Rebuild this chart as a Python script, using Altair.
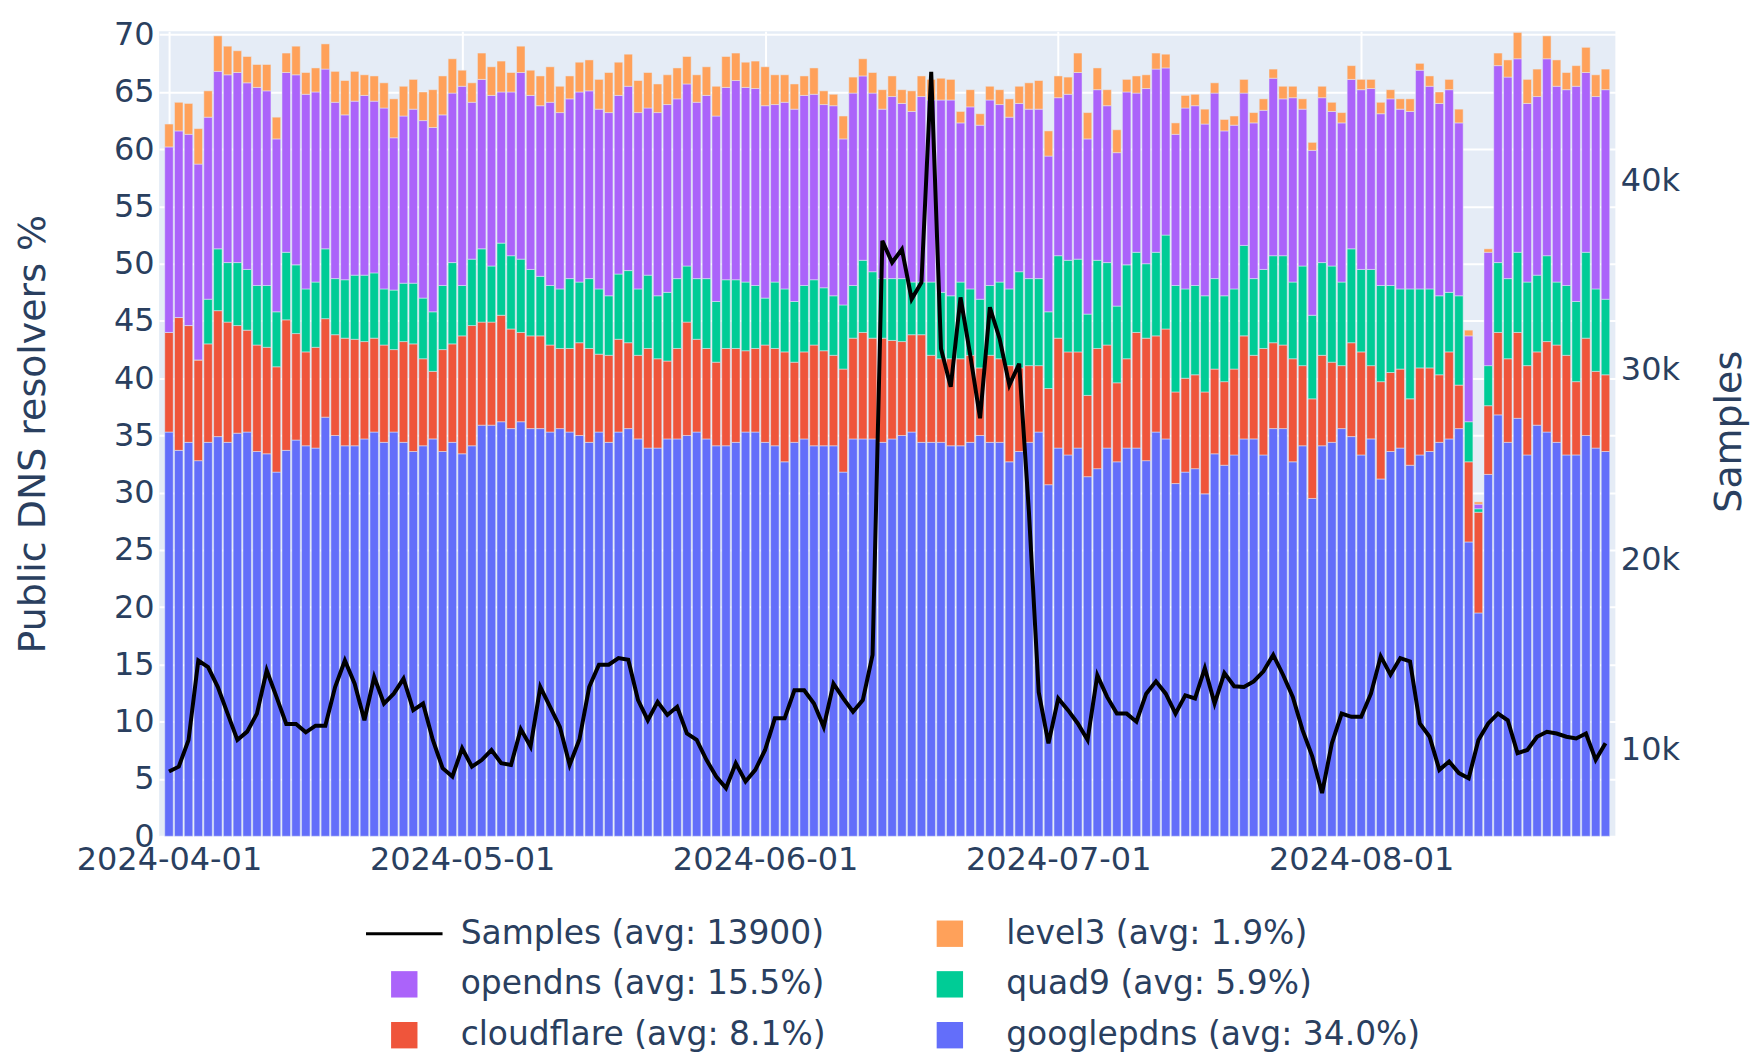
import altair as alt
import pandas as pd

# ---------------- data ----------------
start_date = "2024-04-01"
n_days = 148
dates = pd.date_range(start_date, periods=n_days, freq="D").strftime("%Y-%m-%d").tolist()

series_names = ["googlepdns", "cloudflare", "quad9", "opendns", "level3"]
series_avg = ["34.0%", "8.1%", "5.9%", "15.5%", "1.9%"]
samples_avg = "13900"

# stack boundaries (top of each segment, in %), read bar by bar
googlepdns_top = [
    35.3, 33.7, 34.4, 32.8, 34.4, 34.9, 34.4, 35.2, 35.3, 33.6, 33.4, 31.8, 33.7, 34.6, 34.1, 33.9,
    36.6, 35.0, 34.1, 34.1, 34.7, 35.3, 34.4, 35.3, 34.4, 33.6, 34.1, 34.7, 33.6, 34.4, 33.4, 34.1,
    35.9, 35.9, 36.2, 35.6, 36.2, 35.6, 35.6, 35.3, 35.6, 35.3, 35.0, 34.4, 35.3, 34.4, 35.3, 35.6,
    34.7, 33.9, 33.9, 34.7, 34.7, 35.0, 35.3, 34.7, 34.1, 34.1, 34.4, 35.3, 35.3, 34.4, 34.1, 32.7,
    34.4, 34.7, 34.1, 34.1, 34.1, 31.8, 34.7, 34.7, 34.7, 34.4, 34.7, 35.0, 35.3, 34.4, 34.4, 34.4,
    34.1, 34.1, 34.4, 35.0, 34.4, 34.4, 32.7, 33.6, 34.4, 35.3, 30.7, 33.9, 33.3, 33.9, 31.4, 32.1,
    33.9, 32.7, 33.9, 33.9, 32.8, 35.3, 34.7, 30.8, 31.8, 32.1, 29.9, 33.4, 32.4, 33.3, 34.7, 34.7,
    33.3, 35.6, 35.6, 32.7, 34.1, 29.5, 34.1, 34.4, 35.6, 34.9, 33.3, 34.7, 31.2, 33.6, 33.9, 32.4,
    33.3, 33.6, 34.4, 34.7, 35.6, 25.7, 19.5, 31.6, 36.8, 34.4, 36.5, 33.3, 35.9, 35.3, 34.4, 33.3,
    33.3, 35.0, 33.9, 33.6,
]
cloudflare_top = [
    44.0, 45.3, 44.6, 41.6, 43.0, 45.9, 44.9, 44.6, 44.2, 42.9, 42.7, 41.0, 45.1, 43.9, 42.3, 42.7,
    45.2, 43.8, 43.5, 43.4, 43.2, 43.5, 42.9, 42.5, 43.2, 43.0, 41.7, 40.6, 42.5, 43.0, 43.7, 44.6,
    44.9, 44.9, 45.5, 44.3, 44.0, 43.7, 43.7, 42.9, 42.6, 42.6, 43.1, 42.6, 42.1, 42.0, 43.4, 43.1,
    42.0, 42.6, 41.7, 41.5, 42.6, 44.9, 43.4, 42.6, 41.4, 42.6, 42.6, 42.4, 42.6, 42.9, 42.6, 42.3,
    41.4, 42.3, 42.9, 42.4, 42.0, 40.8, 43.5, 44.0, 43.5, 43.5, 43.3, 43.2, 43.8, 43.8, 42.0, 41.7,
    41.7, 41.7, 42.0, 40.9, 42.0, 41.7, 41.1, 40.9, 41.1, 41.1, 39.1, 43.5, 42.3, 42.3, 38.5, 42.6,
    42.9, 39.6, 41.7, 44.0, 43.5, 43.7, 44.3, 38.8, 40.0, 40.3, 38.8, 40.8, 39.7, 40.8, 43.7, 42.0,
    42.6, 43.1, 42.9, 41.7, 41.1, 38.2, 42.0, 41.4, 41.1, 43.1, 42.3, 41.1, 39.7, 40.5, 40.8, 38.2,
    40.9, 40.9, 40.3, 42.3, 39.4, 32.7, 28.3, 37.6, 44.0, 41.7, 44.0, 41.1, 42.3, 43.2, 42.9, 42.0,
    39.7, 43.5, 40.6, 40.3,
]
quad9_top = [
    44.0, 45.3, 44.6, 41.6, 46.9, 51.3, 50.1, 50.1, 49.5, 48.1, 48.1, 45.8, 51.0, 49.9, 47.8, 48.4,
    51.3, 48.7, 48.6, 49.0, 49.0, 49.2, 47.8, 47.7, 48.3, 48.3, 47.0, 45.8, 48.1, 50.1, 48.1, 50.4,
    51.3, 49.8, 51.8, 50.7, 50.4, 49.5, 48.9, 48.1, 47.8, 48.7, 48.4, 48.7, 47.8, 47.2, 49.1, 49.4,
    47.8, 49.0, 47.2, 47.5, 48.7, 49.8, 48.7, 48.7, 46.7, 48.6, 48.6, 48.4, 48.1, 47.0, 48.4, 47.8,
    46.7, 48.1, 48.6, 47.9, 47.2, 46.4, 48.1, 50.3, 49.3, 48.7, 48.7, 48.7, 48.4, 48.4, 48.4, 47.5,
    47.2, 48.4, 47.8, 46.9, 48.1, 48.4, 47.8, 49.3, 48.7, 48.7, 45.8, 50.7, 50.3, 50.4, 45.6, 50.3,
    50.1, 46.3, 49.9, 51.0, 50.0, 51.0, 52.5, 48.1, 47.8, 48.1, 47.2, 48.7, 47.2, 47.8, 51.6, 48.7,
    49.5, 50.7, 50.7, 48.4, 49.8, 45.5, 50.1, 49.8, 48.4, 51.3, 49.5, 49.5, 48.1, 48.1, 47.8, 47.8,
    47.8, 47.8, 47.2, 47.5, 47.2, 36.2, 28.6, 41.1, 50.1, 48.7, 51.0, 48.4, 49.0, 50.7, 48.4, 48.1,
    46.7, 51.0, 47.8, 46.9,
]
opendns_top = [
    60.2, 61.6, 61.3, 58.7, 62.8, 66.8, 66.5, 66.7, 65.8, 65.4, 65.1, 60.9, 66.7, 66.5, 64.8, 65.0,
    67.0, 64.1, 63.0, 64.2, 64.7, 64.2, 63.6, 61.0, 62.9, 63.5, 62.5, 61.9, 63.0, 64.9, 65.5, 64.1,
    66.1, 64.7, 65.0, 65.0, 66.7, 64.7, 63.8, 64.1, 63.2, 64.4, 65.0, 65.1, 63.5, 63.2, 64.7, 65.5,
    63.2, 63.6, 63.2, 63.9, 64.4, 65.7, 64.1, 64.7, 62.9, 65.4, 66.0, 65.4, 65.3, 63.8, 63.9, 64.1,
    63.5, 64.7, 64.8, 63.9, 63.8, 60.9, 64.9, 66.4, 64.9, 63.5, 64.6, 64.0, 63.3, 64.6, 64.3, 64.3,
    64.3, 62.3, 63.7, 62.1, 64.3, 63.9, 62.8, 64.0, 63.5, 63.5, 59.4, 64.5, 64.8, 66.7, 60.9, 65.2,
    63.8, 59.7, 65.0, 64.9, 65.3, 67.0, 67.1, 61.3, 63.6, 63.8, 62.2, 64.9, 61.6, 62.1, 64.9, 62.3,
    63.4, 66.2, 64.4, 64.5, 63.5, 59.9, 64.5, 63.3, 62.3, 66.1, 65.2, 65.3, 63.1, 64.4, 63.5, 63.3,
    66.9, 65.5, 64.0, 65.2, 62.3, 43.7, 29.0, 51.0, 67.3, 66.3, 67.9, 64.0, 64.6, 67.9, 65.5, 65.2,
    65.5, 66.7, 64.6, 65.2,
]
level3_top = [
    62.2, 64.1, 64.0, 61.8, 65.1, 69.9, 69.0, 68.6, 68.1, 67.4, 67.4, 62.8, 68.4, 69.0, 66.7, 67.1,
    69.2, 66.8, 66.0, 66.8, 66.5, 66.4, 65.8, 64.4, 65.5, 66.1, 65.0, 65.2, 66.4, 67.9, 66.9, 65.8,
    68.4, 67.2, 67.7, 66.7, 69.0, 66.9, 66.4, 67.2, 65.5, 66.4, 67.6, 67.8, 66.1, 66.7, 67.6, 68.3,
    66.0, 66.7, 65.7, 66.5, 67.1, 68.1, 66.5, 67.2, 65.5, 68.1, 68.4, 67.6, 67.7, 67.2, 66.5, 66.5,
    65.7, 66.4, 67.1, 65.1, 64.8, 62.9, 66.3, 67.9, 66.7, 65.2, 66.4, 65.2, 65.1, 66.4, 66.1, 66.2,
    66.1, 63.3, 65.2, 63.1, 65.5, 65.2, 64.4, 65.5, 65.8, 66.0, 61.6, 66.4, 66.3, 68.4, 63.2, 67.1,
    65.2, 61.7, 66.1, 66.4, 66.5, 68.4, 68.3, 62.3, 64.7, 64.8, 63.5, 65.8, 62.6, 62.9, 66.1, 63.2,
    64.4, 67.0, 65.5, 65.5, 64.4, 60.6, 65.5, 64.1, 63.2, 67.3, 66.1, 66.1, 64.1, 65.2, 64.4, 64.4,
    67.5, 66.4, 65.0, 66.1, 63.5, 44.2, 29.2, 51.3, 68.4, 67.8, 70.2, 66.1, 67.0, 69.9, 67.8, 66.7,
    67.3, 68.9, 66.5, 67.0,
]
samples = [
    8810, 9070, 10470, 14670, 14320, 13270, 11870, 10480, 10920, 11870, 14150, 12750, 11320, 11320, 10880, 11230,
    11230, 13270, 14670, 13450, 11520, 13800, 12400, 12920, 13710, 12050, 12400, 10480, 8990, 8550, 10040, 9070,
    9420, 9950, 9250, 9160, 11050, 10130, 13270, 12230, 11170, 9160, 10500, 13270, 14450, 14450, 14800, 14710,
    12580, 11520, 12490, 11800, 12230, 10820, 10480, 9430, 8550, 7940, 9250, 8290, 8900, 9950, 11620, 11620,
    13100, 13100, 12400, 11170, 13450, 12670, 11970, 12580, 14970, 36810, 35670, 36370, 33740, 34620, 45730, 31120,
    29110, 33830, 30770, 27450, 33310, 31650, 29200, 30330, 22500, 13000, 10300, 12670, 12050, 11350, 10480, 13890,
    12750, 11870, 11870, 11440, 12920, 13570, 12920, 11870, 12830, 12670, 14270, 12400, 14010, 13310, 13270, 13570,
    14100, 14970, 13920, 12750, 11000, 9600, 7680, 10300, 11870, 11700, 11700, 12920, 14890, 13920, 14800, 14620,
    11350, 10650, 8900, 9340, 8730, 8460, 10480, 11350, 11870, 11520, 9780, 9950, 10650, 10910, 10820, 10650,
    10560, 10820, 9430, 10300,
]

# ---------------- tables ----------------
labels = [f"{n} (avg: {a})" for n, a in zip(series_names, series_avg)]
sample_label = f"Samples (avg: {samples_avg})"
tops = [googlepdns_top, cloudflare_top, quad9_top, opendns_top, level3_top]

rows = []
for i, d in enumerate(dates):
    lower = 0.0
    for lab, top in zip(labels, tops):
        rows.append({"date": d, "series": lab, "lo": lower, "hi": top[i]})
        lower = top[i]
bar_df = pd.DataFrame(rows)
line_df = pd.DataFrame({"date": dates, "samples": samples})

legend_order = [sample_label, labels[4], labels[3], labels[2], labels[1], labels[0]]
legend_colors = ["#000000", "#FFA15A", "#AB63FA", "#00CC96", "#EF553B", "#636EFA"]


def ms(ts):
    return int(pd.Timestamp(ts, tz="UTC").value // 10**6)


x_domain = [ms("2024-03-31 12:00"), ms("2024-08-26 12:00")]
x_ticks = [ms(t) for t in ["2024-04-01", "2024-05-01", "2024-06-01", "2024-07-01", "2024-08-01"]]

FONT = "DejaVu Sans"
TXT = "#2a3f5f"

x_axis = alt.Axis(
    values=x_ticks, format="%Y-%m-%d", title=None, grid=True, gridColor="white", gridWidth=2,
    domain=False, ticks=False, labelPadding=8, labelFontSize=32, labelFlush=False,
    labelOverlap=False, labelLimit=500,
)
x_enc = alt.X("date:T", scale=alt.Scale(type="utc", domain=x_domain, nice=False), axis=x_axis)

bars = alt.Chart(bar_df).mark_bar(width=8.5, stroke="#E5ECF6", strokeWidth=0.5).encode(
    x=x_enc,
    y=alt.Y(
        "lo:Q",
        scale=alt.Scale(domain=[0, 70.3], nice=False, zero=True),
        axis=alt.Axis(
            values=list(range(0, 71, 5)), title="Public DNS resolvers %", grid=True,
            gridColor="white", gridWidth=2, domain=False, ticks=False, labelPadding=5,
            labelFontSize=32, titleFontSize=38, titleAngle=270, titleAlign="center",
            titleBaseline="middle", titleX=-125.5, titleY=403.5, labelFlush=False,
        ),
    ),
    y2="hi:Q",
    color=alt.Color(
        "series:N",
        scale=alt.Scale(domain=legend_order, range=legend_colors),
        legend=alt.Legend(
            title=None, orient="none", legendX=229.3, legendY=888, columns=2,
            direction="horizontal",
            symbolType={"expr": "datum.value == '" + sample_label
                        + "' ? 'M-2.9,-0.12H2.9V0.12H-2.9Z' : 'square'"},
            symbolSize=700, symbolStrokeWidth=0, labelFontSize=33, labelFont=FONT,
            labelColor=TXT, labelOffset=40, columnPadding=108, rowPadding=17,
            labelLimit=900, padding=0, symbolOpacity=1,
        ),
    ),
)

line = alt.Chart(line_df).mark_line(color="black", strokeWidth=4).encode(
    x=x_enc,
    y=alt.Y(
        "samples:Q",
        scale=alt.Scale(domain=[5400, 47870], nice=False, zero=False),
        axis=alt.Axis(
            orient="right", values=[10000, 20000, 30000, 40000], format="~s", title="Samples",
            grid=False, domain=False, ticks=False, labelPadding=5, labelFontSize=32,
            titleFontSize=38, titleAngle=270, titleAlign="center", titleBaseline="middle",
            titleX=114, titleY=401,
        ),
    ),
)

chart = (
    alt.layer(bars, line)
    .resolve_scale(y="independent")
    .properties(
        width=1460, height=807,
        autosize=alt.AutoSizeParams(type="none"),
        padding={"left": 151.5, "top": 22, "right": 138, "bottom": 222},
        background="white",
    )
    .configure_view(fill="#E5ECF6", stroke=None)
    .configure_axis(labelFont=FONT, titleFont=FONT, labelColor=TXT, titleColor=TXT,
                    titleFontWeight="normal")
    .configure_legend(labelFont=FONT, labelColor=TXT)
)

chart.save("out.html", embed_options={"renderer": "svg", "actions": False})
